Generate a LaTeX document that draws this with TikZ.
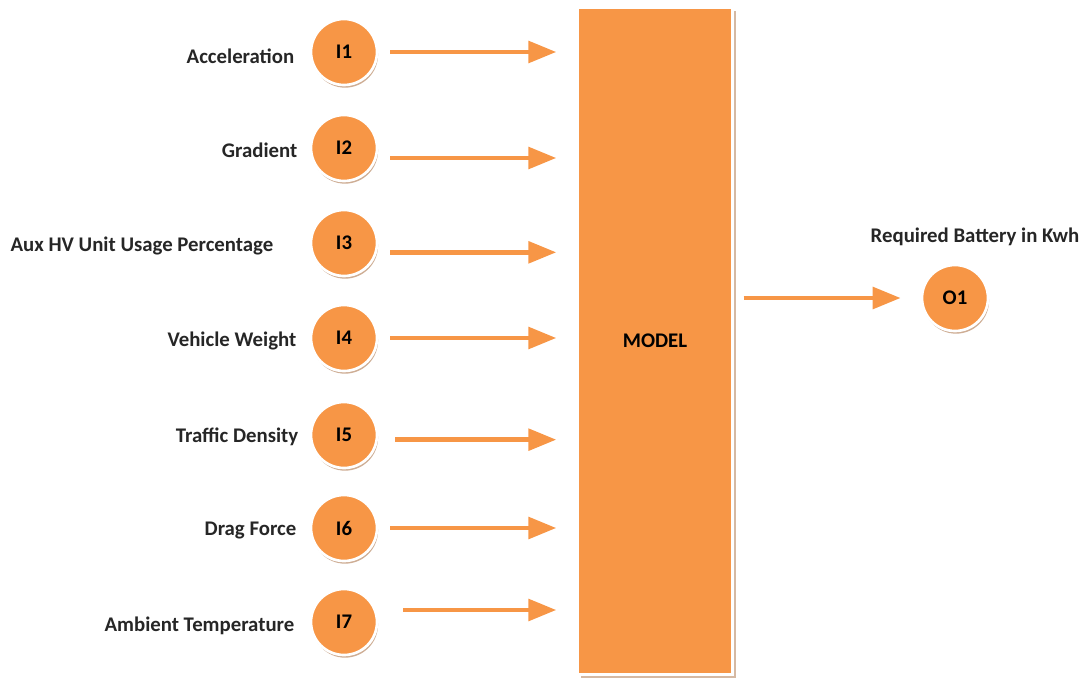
\documentclass[tikz,border=0pt]{standalone}
\usepackage{fontspec}
\setmainfont{Carlito}
\usetikzlibrary{arrows.meta,shadows}
\definecolor{porange}{HTML}{F79646}
\definecolor{pshade}{HTML}{B98A66}

\begin{document}
\begin{tikzpicture}[
  x=0.75pt, y=-0.75pt,
  font=\fontsize{15.6}{17}\selectfont\bfseries,
  inp/.style={circle, fill=porange, draw=white, line width=2pt, minimum size=49.5pt, inner sep=0pt,
              drop shadow={shadow xshift=0.8pt, shadow yshift=-2pt, fill=pshade, opacity=0.7}},
  model/.style={rectangle, fill=porange, draw=white, line width=2pt, minimum width=116pt, minimum height=500pt,
                drop shadow={shadow xshift=2.6pt, shadow yshift=-2.6pt, fill=pshade, opacity=0.6}},
  lbl/.style={anchor=east, text=black!85},
  flow/.style={-{Triangle[length=21pt, width=16pt]}, line width=3.6pt, porange,
               shorten <=9pt, shorten >=15pt},
]
\useasboundingbox (0,0) rectangle (1084,684);

% ---------------- the model ----------------
\node[model] (model) at (655,341) {MODEL};

% ---------------- the inputs ----------------
\node[inp] (i1) at (344,52)  {I1};
\node[inp] (i2) at (344,148) {I2};
\node[inp] (i3) at (344,243) {I3};
\node[inp] (i4) at (344,338) {I4};
\node[inp] (i5) at (344,435) {I5};
\node[inp] (i6) at (344,528) {I6};
\node[inp] (i7) at (344,622) {I7};
\node[lbl] at (299,56)  {Acceleration};
\node[lbl] at (302,150) {Gradient};
\node[lbl] at (278,246) {Aux HV Unit Usage Percentage};
\node[lbl] at (301,341) {Vehicle Weight};
\node[lbl] at (303,437) {Traffic Density};
\node[lbl] at (301,531) {Drag Force};
\node[lbl] at (299,626) {Ambient Temperature};

\draw[flow] (i1) -- (i1 -| model.west);
\draw[flow] ([yshift=-7.5pt]i2.east) -- ([yshift=-7.5pt]i2 -| model.west);
\draw[flow] ([yshift=-7pt]i3.east) -- ([yshift=-7pt]i3 -| model.west);
\draw[flow] (i4) -- (i4 -| model.west);
\draw[flow, shorten <=12.5pt] ([yshift=-3.5pt]i5.east) -- ([yshift=-3.5pt]i5 -| model.west);
\draw[flow] (i6) -- (i6 -| model.west);
\draw[flow, shorten <=18.5pt] ([yshift=9pt]i7.east) -- ([yshift=9pt]i7 -| model.west);

% ---------------- the output ----------------
\node[inp] (o1) at (955,298) {O1};
\node[text=black!85] at (975,237) {Required Battery in Kwh};
\draw[flow, shorten <=7.5pt] (model.east |- o1) -- (o1);

\end{tikzpicture}
\end{document}
